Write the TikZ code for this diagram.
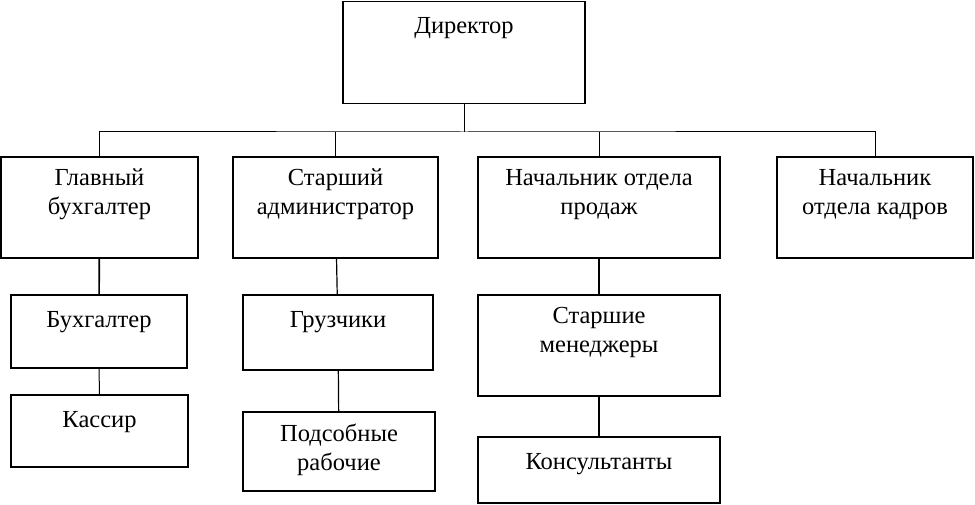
\documentclass[tikz,border=0pt]{standalone}
\usepackage{fontspec}
\setmainfont{Liberation Serif}

\begin{document}
\begin{tikzpicture}[x=1pt, y=-1pt,
    post/.style={draw, line width=1.9pt, inner sep=0pt},
    sub/.style={draw, line width=1.5pt, inner sep=0pt},
    txt/.style={anchor=north, inner sep=0pt, yshift=-12.8pt, align=center,
      font=\fontsize{24.5}{29}\selectfont, execute at begin node=\strut}]
  \useasboundingbox (0,0) rectangle (975,505);
  % top
  \node[post, minimum width=242, minimum height=102, label={[txt]north:Директор}] (dir) at (464,52.5) {};
  % second row
  \node[post, minimum width=197, minimum height=101, label={[txt]north:Главный\\бухгалтер}] (glav) at (99.5,207.5) {};
  \node[post, minimum width=205, minimum height=101, label={[txt]north:Старший\\администратор}] (adm) at (335.5,207.5) {};
  \node[post, minimum width=242, minimum height=101, label={[txt]north:Начальник отдела\\продаж}] (prod) at (599,207.5) {};
  \node[post, minimum width=196, minimum height=101, label={[txt]north:Начальник\\отдела кадров}] (kadr) at (875,207.5) {};
  % third row
  \node[sub, minimum width=176, minimum height=73, label={[txt]north:Бухгалтер}] (buh) at (99,331.5) {};
  \node[sub, minimum width=177, minimum height=72, label={[txt]north:Кассир}] (kass) at (99.5,431) {};
  \node[sub, minimum width=190, minimum height=75, label={[txt]north:Грузчики}] (gruz) at (338,332.5) {};
  \node[sub, minimum width=192, minimum height=79, label={[txt]north:Подсобные\\рабочие}] (pods) at (339,451.5) {};
  \node[sub, minimum width=242, minimum height=101, label={[txt]north:Старшие\\менеджеры}] (mgr) at (599,345.5) {};
  \node[sub, minimum width=242, minimum height=66, label={[txt]north:Консультанты}] (kons) at (599,470) {};
  \coordinate (bus) at (464,132);
  % links
  \draw[line width=1pt] (dir) -- (bus);
  \draw[line width=1pt] (glav.north) |- (bus) -| (kadr.north);
  \draw[line width=1pt] (adm.north) -- (adm.north |- bus);
  \draw[line width=1pt] (prod.north) -- (prod.north |- bus);
  \draw[line width=1.6pt] (glav) -- (buh);
  \draw[line width=1pt] (buh) -- (kass);
  \draw[line width=1.2pt] (adm) -- (gruz);
  \draw[line width=1.2pt] (gruz) -- (pods);
  \draw[line width=1.6pt] (prod) -- (mgr);
  \draw[line width=1.6pt] (mgr) -- (kons);
\end{tikzpicture}
\end{document}
